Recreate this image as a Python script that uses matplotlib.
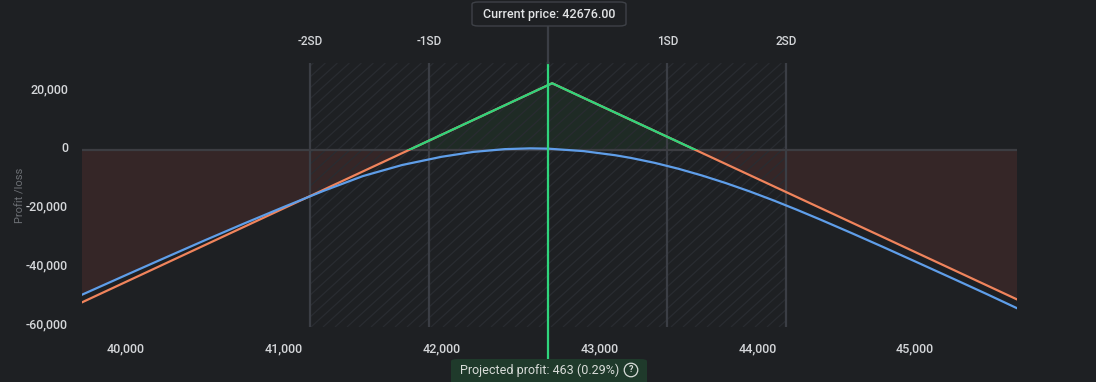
import numpy as np
import matplotlib
matplotlib.use("Agg")
import matplotlib.pyplot as plt
import matplotlib.transforms as mtransforms
from matplotlib.patches import FancyBboxPatch
from matplotlib.collections import LineCollection

# data
current_price = 42676.00
sd_levels = [41168, 41922, 43430, 44184]
sd_labels = ["-2SD", "-1SD", "1SD", "2SD"]

expiry_x = [39721, 42700, 45646]
expiry_pl = [-51900, 22750, -50900]

today_x = [39721, 40000, 40250, 40500, 40750, 41000, 41250, 41500, 41750, 42000, 42200,
           42400, 42560, 42676, 42900, 43100, 43200, 43350, 43500, 43650, 43800, 43950,
           44100, 44250, 44400, 44600, 44800, 45000, 45250, 45450, 45646]
today_pl = [-49300, -42600, -36650, -30750, -25000, -19400, -13950, -8900, -5100, -2300, -650,
            300, 570, 463, -377, -1777, -2702, -4371, -6377, -8683, -11252, -14064,
            -17102, -20327, -23702, -28350, -33102, -37950, -44050, -48970, -53900]

x_ticks = [40000, 41000, 42000, 43000, 44000, 45000]
y_ticks = [20000, 0, -20000, -40000, -60000]
projected = "Projected profit: 463 (0.29%)"

BG = "#1e2023"
TXT = "#d4d6d9"
GRID = "#3b3e45"
ORANGE = "#f0845c"
BLUE = "#5f9ee9"
GREEN = "#2fd47c"

plt.rcParams['font.family'] = ['Roboto', 'DejaVu Sans']

W, H = 1096, 382
fig = plt.figure(figsize=(W / 100, H / 100), dpi=100, facecolor=BG)
ax = fig.add_axes([82 / W, 1 - 327 / H, (1017 - 82) / W, (327 - 63) / H])
ax.set_facecolor(BG)
xmin, xmax = expiry_x[0], expiry_x[-1]
ax.set_xlim(xmin, xmax)
ax.set_ylim(-60300, 29650)
for s in ax.spines.values():
    s.set_visible(False)

grid = np.linspace(xmin, xmax, 2000)
exp_g = np.interp(grid, expiry_x, expiry_pl)
t0_g = np.interp(grid, today_x, today_pl)
upper = np.maximum(exp_g, t0_g)
ax.fill_between(grid, 0, upper, where=upper < 0, interpolate=True,
                color="#352627", lw=0, zorder=1)
ax.fill_between(grid, 0, exp_g, where=exp_g > 0, interpolate=True,
                color="#1f2b25", lw=0, zorder=1)

# hatched +-2SD band (diagonal texture, ~12px apart)
band = ax.axvspan(sd_levels[0], sd_levels[-1], facecolor="none", lw=0, zorder=2)
aw, ah = 935.0, 264.0
starts = np.arange(-1.0, 1.0, 12 / aw)
segs = [[(u, 0), (u + ah / aw * 1.1, 1)] for u in starts]
hatch = LineCollection(segs, colors="#292c31", linewidths=0.9,
                       transform=ax.transAxes, zorder=2)
ax.add_collection(hatch)
hatch.set_clip_path(band)

for lvl, lab in zip(sd_levels, sd_labels):
    ax.axvline(lvl, color=GRID, lw=1.6, zorder=3)
    ax.text(lvl, 1.08, lab, transform=ax.get_xaxis_transform(), ha="center", va="center",
            color=TXT, fontsize=8.5, fontweight="medium")

ax.axhline(0, color="#3c3d42", lw=1.6, zorder=3)

ax.plot(expiry_x, expiry_pl, color=ORANGE, lw=1.6, zorder=5)
green_part, = ax.plot(expiry_x, expiry_pl, color=GREEN, lw=1.6, zorder=6)
clip = plt.Rectangle((xmin, 0), xmax - xmin, 1e6, transform=ax.transData)
green_part.set_clip_path(clip)
ax.plot(today_x, today_pl, color=BLUE, lw=1.6, zorder=5)

# current price marker
ax.plot([current_price, current_price], [-0.121, 1], transform=ax.get_xaxis_transform(),
        color=GREEN, lw=1.6, zorder=7, clip_on=False)
ax.plot([current_price, current_price], [1, 1.14], transform=ax.get_xaxis_transform(),
        color=GRID, lw=1.6, zorder=7, clip_on=False)

ax.set_xticks(x_ticks)
ax.set_xticklabels([f"{v:,}" for v in x_ticks])
ax.set_yticks(y_ticks)
ax.set_yticklabels([f"{v:,}" for v in y_ticks])
ax.tick_params(length=0, colors=TXT, labelsize=9)
ax.tick_params(axis="x", pad=11)
ax.tick_params(axis="y", pad=10)
for lab in ax.get_xticklabels() + ax.get_yticklabels():
    lab.set_fontweight("medium")
off = mtransforms.ScaledTranslation(0, 3 / 100, fig.dpi_scale_trans)
for lab in ax.get_yticklabels():
    lab.set_transform(lab.get_transform() + off)
ax.set_ylabel("Profit /loss", color="#6d7075", fontsize=8)
ax.yaxis.set_label_coords(-0.060, 0.5)

# current price box
fig.add_artist(FancyBboxPatch((472 / W, 1 - 26 / H), 154 / W, 24 / H,
                              boxstyle="round,pad=0,rounding_size=0.006",
                              transform=fig.transFigure, facecolor=BG,
                              edgecolor="#3e4147", lw=1.0))
fig.text(549 / W, 1 - 14.5 / H, f"Current price: {current_price:.2f}", ha="center",
         va="center", color="#e2e4e6", fontsize=9, fontweight="medium")

# projected profit box
fig.add_artist(FancyBboxPatch((451 / W, -10 / H), 196 / W, (10 + 23) / H,
                              boxstyle="round,pad=0,rounding_size=0.006",
                              transform=fig.transFigure, facecolor="#1f3a2b",
                              edgecolor="none"))
fig.text(540 / W, 1 - 370 / H, projected, ha="center", va="center",
         color="#d9dcd9", fontsize=9)
fig.text(631 / W, 1 - 370 / H, "?", ha="center", va="center", color="#d9dcd9",
         fontsize=6.5, fontweight="bold",
         bbox=dict(boxstyle="circle,pad=0.25", facecolor="none", edgecolor="#d9dcd9", lw=0.9))

fig.savefig("out.png", dpi=100, facecolor=BG)
